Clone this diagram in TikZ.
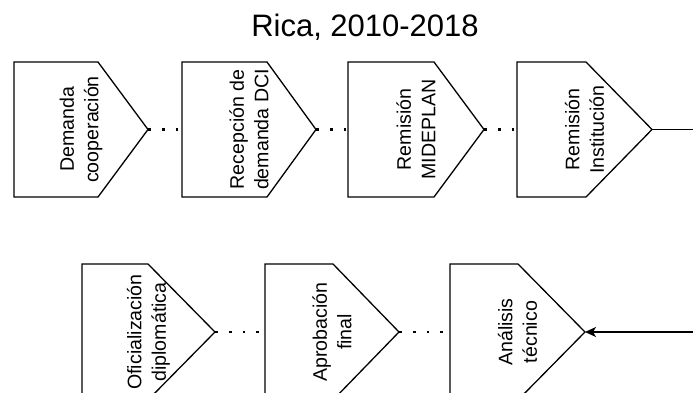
\documentclass[tikz,border=0pt]{standalone}
\usepackage{fontspec}
\setmainfont{Liberation Sans}
\usetikzlibrary{arrows.meta}

\tikzset{
  outline/.style={draw=black, line width=1.3pt, line join=miter},
  stagetext/.style={rotate=90, align=center, font=\fontsize{19.6}{24.5}\selectfont, inner sep=0pt},
  dotlink/.style={draw=black, line width=2.7pt, dash pattern=on 2.7pt off 11.1pt},
  flow/.style={draw=black, line width=1.3pt},
  % pentagon stage: #1 flat length, #2 point depth, #3 height, #4 label
  pics/stage/.style n args={4}{
    code={
      \draw[outline] (0,0) -- (#1,0) -- ({#1+#2},{#3/2}) -- (#1,#3) -- (0,#3) -- cycle;
      \node[stagetext] (-label) at ({(#1+#2)/2},{#3/2}) {#4};
      \coordinate (-tip) at ({#1+#2},{#3/2});
      \coordinate (-in) at (0,{#3/2});
    }
  }
}

\begin{document}
\begin{tikzpicture}[x=1pt, y=-1pt]
  \useasboundingbox (0,0) rectangle (693,393);
  \clip (0,0) rectangle (693,393);

  % heading
  \node[anchor=base, font=\fontsize{31}{36}\selectfont, inner sep=0pt] (title) at (365,37) {Rica, 2010-2018};

  % upper row of stages
  \pic (s1) at (14,62)  {stage={84}{50}{135}{Demanda\\cooperación}};
  \pic (s2) at (182,62) {stage={85}{49}{135}{Recepción de\\demanda DCI}};
  \pic (s3) at (348,62) {stage={86}{50}{135}{Remisión\\MIDEPLAN}};
  \pic (s4) at (517,62) {stage={69}{66}{135}{Remisión\\Institución}};

  % lower row of stages
  \pic (b1) at (82,264)  {stage={66}{67}{136}{Oficialización\\diplomática}};
  \pic (b2) at (265,264) {stage={68}{66}{136}{Aprobación\\final}};
  \pic (b3) at (450,264) {stage={68}{67}{136}{Análisis\\técnico}};

  % dotted links between neighbouring stages
  \draw[dotlink] (s1-tip) -- (s2-in);
  \draw[dotlink] (s2-tip) -- (s3-in);
  \draw[dotlink] (s3-tip) -- (s4-in);
  \draw[dotlink] (b1-tip) -- (b2-in);
  \draw[dotlink] (b2-tip) -- (b3-in);

  % flow leaving the upper row and entering the lower row
  \coordinate (exit) at (693,129.5);
  \coordinate (entry) at (693,332);
  \draw[flow] (s4-tip) -- (exit);
  \draw[flow, -{Stealth[length=11pt, width=10pt, inset=3pt]}] (entry) -- (b3-tip);
\end{tikzpicture}
\end{document}
